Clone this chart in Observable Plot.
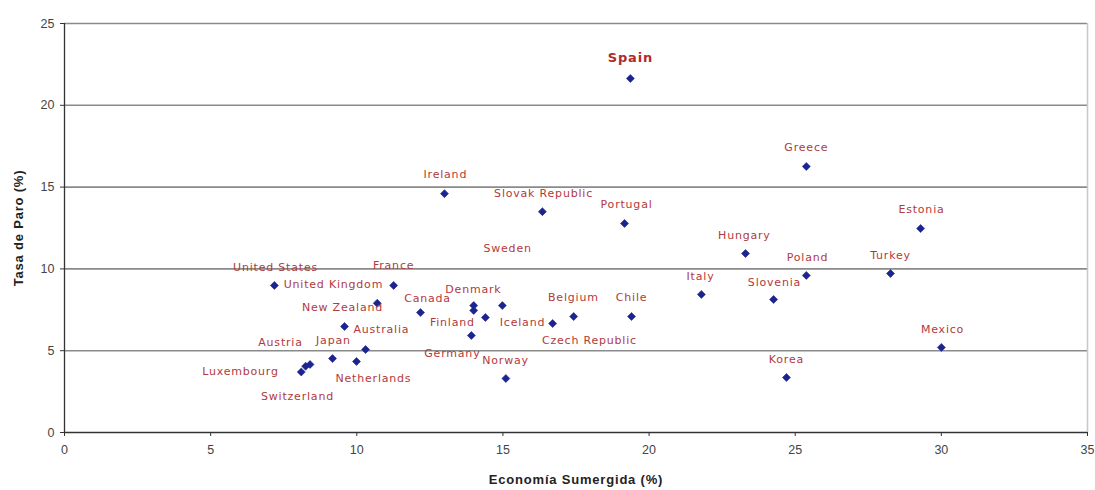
<!DOCTYPE html>
<html>
<head>
<meta charset="utf-8">
<script src="https://cdn.jsdelivr.net/npm/d3@7"></script>
<script src="https://cdn.jsdelivr.net/npm/@observablehq/plot@0.6"></script>
<style>
  html, body { margin: 0; padding: 0; background: #fff; }
  #chart svg { display: block; }
  #chart g[aria-label="text"] text { letter-spacing: 0.8px; }
</style>
</head>
<body>
<div id="chart"></div>
<script>
// Country names
const countries = ["Spain","Greece","Ireland","Slovak Republic","Portugal","Estonia","Sweden","Hungary","Poland","Turkey","Italy","Slovenia","Mexico","Korea","United States","France","United Kingdom","New Zealand","Australia","Canada","Denmark","Finland","Iceland","Belgium","Chile","Czech Republic","Germany","Norway","Austria","Japan","Luxembourg","Netherlands","Switzerland"];
// Economía sumergida (%)
const shadow = [19.36,25.38,13.0,16.35,19.16,29.29,14.98,23.3,25.38,28.26,21.79,24.26,30.0,24.7,7.18,11.26,10.7,9.58,10.3,12.18,14.0,14.0,14.4,17.42,19.4,16.7,13.92,15.1,8.4,9.17,8.25,9.99,8.1];
// Tasa de paro (%)
const unemployment = [21.64,16.26,14.6,13.5,12.78,12.47,7.76,10.94,9.6,9.72,8.44,8.13,5.2,3.36,8.99,8.99,7.9,6.48,5.07,7.33,7.46,7.76,7.03,7.09,7.09,6.66,5.93,3.3,4.16,4.52,4.05,4.34,3.7];
// Label anchor positions in data units (as placed in the original chart)
const labelX = [19.36,25.38,13.03,16.39,19.23,29.32,15.16,23.26,25.42,28.26,21.76,24.29,30.04,24.70,7.22,11.26,9.2,9.51,10.84,12.42,13.99,13.27,15.67,17.41,19.4,17.96,13.27,15.09,7.39,9.2,6.02,10.57,7.97];
const labelY = [22.92,17.42,15.77,14.61,13.94,13.63,11.25,12.04,10.70,10.82,9.54,9.17,6.30,4.46,10.09,10.21,9.05,7.64,6.30,8.19,8.74,6.72,6.72,8.25,8.25,5.62,4.83,4.40,5.50,5.62,3.73,3.30,2.20];
// Axis ticks
const xTicks = [0,5,10,15,20,25,30,35];
const yTicks = [0,5,10,15,20,25];
const gridY = [5,10,15,20,25];

const points = countries.map((c, i) => ({country: c, x: shadow[i], y: unemployment[i]}));
const labels = countries.map((c, i) => ({country: c, x: labelX[i], y: labelY[i]}));
const highlight = ["Spain"];

const tickFont = "'Liberation Sans Narrow', 'Arial Narrow', 'Liberation Sans', sans-serif";
const titleFont = "'Liberation Sans', Arial, sans-serif";
const labelFont = "'DejaVu Sans', Verdana, sans-serif";

const chart = Plot.plot({
  width: 1095,
  height: 490,
  marginLeft: 64,
  marginRight: 8,
  marginTop: 23,
  marginBottom: 58,
  style: {background: "#fff"},
  x: {domain: [0, 35]},
  y: {domain: [0, 25]},
  marks: [
    Plot.ruleY(gridY, {stroke: "#8a8a8a", strokeWidth: 1.6}),
    Plot.ruleX([35], {stroke: "#c8c8c8", strokeWidth: 1.5}),
    Plot.ruleX([0], {stroke: "#333", strokeWidth: 1.3}),
    Plot.ruleY([0], {stroke: "#333", strokeWidth: 1.3}),
    Plot.axisX({ticks: xTicks, tickSize: 4, tickPadding: 9, stroke: "#333", fill: "#444", fontSize: 12.5, fontFamily: tickFont, label: null}),
    Plot.axisY({ticks: yTicks, tickSize: 4, tickPadding: 6, stroke: "#333", fill: "#444", fontSize: 12.5, fontFamily: tickFont, label: null}),
    Plot.dot(points, {x: "x", y: "y", symbol: "diamond2", r: 3.6, fill: "#1c2490", stroke: "#1c2490", strokeWidth: 0.6}),
    Plot.text(labels.filter(d => !highlight.includes(d.country)), {x: "x", y: "y", text: "country", fill: "#b23a3a", fontSize: 11, fontFamily: labelFont}),
    Plot.text(labels.filter(d => highlight.includes(d.country)), {x: "x", y: "y", text: "country", fill: "#b02a2a", fontSize: 13, fontWeight: "bold", fontFamily: labelFont}),
    Plot.text(["Economía Sumergida (%)"], {frameAnchor: "bottom", dy: 51, fontSize: 13, fontWeight: "bold", fill: "#222", fontFamily: titleFont}),
    Plot.text(["Tasa de Paro (%)"], {frameAnchor: "left", dx: -46, rotate: -90, textAnchor: "middle", fontSize: 13, fontWeight: "bold", fill: "#222", fontFamily: titleFont})
  ]
});
document.getElementById("chart").appendChild(chart);
</script>
</body>
</html>
